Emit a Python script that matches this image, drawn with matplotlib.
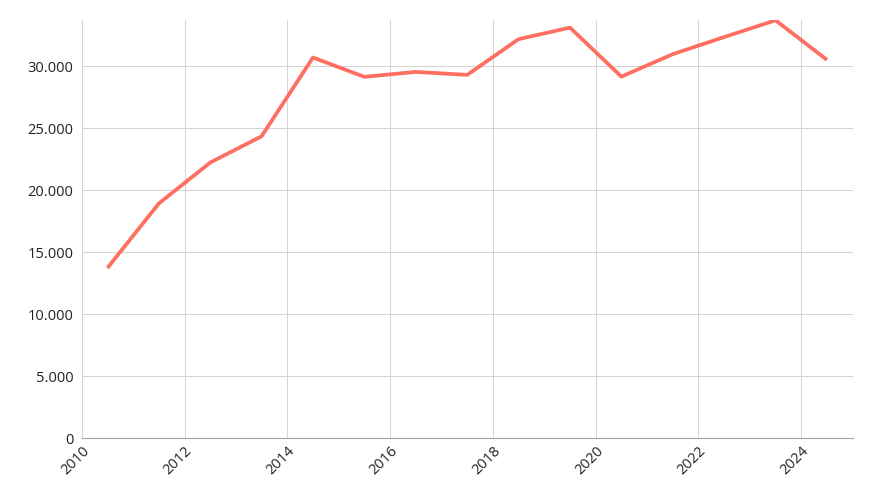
import matplotlib
matplotlib.use("Agg")
import matplotlib.pyplot as plt
from matplotlib.ticker import FuncFormatter

years = [2010.5, 2011.5, 2012.5, 2013.5, 2014.5, 2015.5, 2016.5, 2017.5,
         2018.5, 2019.5, 2020.5, 2021.5, 2022.5, 2023.5, 2024.5]
values = [13730, 18930, 22230, 24350, 30700, 29140, 29540, 29300,
          32180, 33110, 29160, 30970, 32350, 33700, 30510]
xticks = list(range(2010, 2025, 2))
yticks = [0, 5000, 10000, 15000, 20000, 25000, 30000]

plt.rcParams['font.family'] = ['Open Sans', 'DejaVu Sans']

fig = plt.figure(figsize=(8.73, 5.0), dpi=100)
ax = fig.add_axes([0.0936, 0.1234, 0.9767 - 0.0936, 0.9594 - 0.1234])

ax.plot(years, values, color='#ff6f61', linewidth=2.7, solid_joinstyle='round',
        solid_capstyle='butt', zorder=3)

ax.set_xlim(2010, 2025)
ax.set_ylim(0, max(values))
ax.set_xticks(xticks)
ax.set_yticks(yticks)
ax.yaxis.set_major_formatter(FuncFormatter(lambda v, p: f"{int(v):,}".replace(",", ".")))

ax.grid(True, color='#d4d4d4', linewidth=0.75, zorder=0)
ax.set_axisbelow(True)

for s in ['top', 'right']:
    ax.spines[s].set_visible(False)
ax.spines['left'].set_color('#d4d4d4')
ax.spines['bottom'].set_color('#a0a0a0')
ax.spines['left'].set_linewidth(0.8)
ax.spines['bottom'].set_linewidth(0.8)

ax.tick_params(axis='both', length=0, labelsize=10.5, labelcolor='#222222')
ax.tick_params(axis='y', pad=6)
ax.tick_params(axis='x', pad=4)
for lbl in ax.get_xticklabels():
    lbl.set_rotation(45)
    lbl.set_ha('right')
    lbl.set_rotation_mode('anchor')

fig.savefig('out.png', dpi=100)
